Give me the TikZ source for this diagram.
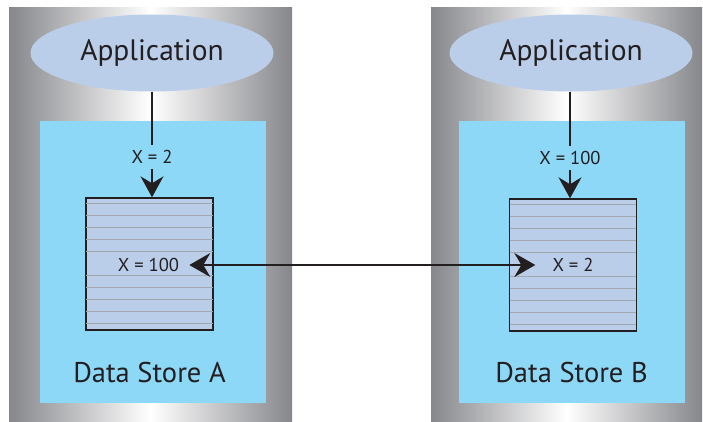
\documentclass[tikz,border=0pt]{standalone}
\usepackage{fontspec}
\setsansfont{PT Sans}
\usepackage{xcolor}
\usetikzlibrary{arrows.meta,positioning,shapes.geometric}
\definecolor{storecyan}{HTML}{8ED8F7}
\definecolor{appblue}{HTML}{BACEEA}
\definecolor{drumgray}{HTML}{86878B}
\definecolor{stripegray}{HTML}{A3A6AD}
\definecolor{inkdark}{HTML}{231F20}

\begin{document}
\begin{tikzpicture}[
  x=1pt,y=-1pt,
  font=\sffamily, text=inkdark,
  drum/.style={left color=drumgray,right color=drumgray,middle color=white},
  app/.style={ellipse,fill=appblue,minimum width=243pt,minimum height=77pt,inner sep=0pt,font=\sffamily\fontsize{29.5}{33}\selectfont},
  store/.style={fill=storecyan,minimum width=226pt,minimum height=282pt,inner sep=0pt},
  table/.style={draw=inkdark,line width=1.4pt,fill=appblue,minimum width=127pt,minimum height=132pt,inner sep=0pt},
  val/.style={font=\sffamily\fontsize{18.6}{21}\selectfont,inner sep=5pt},
  tag/.style={font=\sffamily\fontsize{28.5}{32}\selectfont},
  link/.style={draw=inkdark,line width=1.1pt},
  flow/.style={link,-{Stealth[length=21pt,width=23pt,inset=7pt]}}
]
\useasboundingbox (0,0) rectangle (703,421);

% the two drums
\shade[drum] (9,7) rectangle (292,421);
\shade[drum] (431,7) rectangle (702,421);

\node[store] (sa) at (153,262) {};
\node[store] (sb) at (572,262) {};

\node[app] (appa) at (152,53) {Application};
\node[app] (appb) at (571,53) {Application};

\node[table] (ta) at (149.5,264) {};
\node[table] (tb) at (573,265) {};
\foreach \t in {ta,tb}
  \foreach \k in {1,...,5,7,8,9,10,11}
    \draw[stripegray,line width=1pt,shorten <=0.8pt,shorten >=0.8pt]
      ([yshift=-\k*12pt+6pt]\t.north west) -- ([yshift=-\k*12pt+6pt]\t.north east);

% values
\node[val] (wa) at (152,157) {X = 2};
\node[val] (wb) at (570,158) {X = 100};
\node[val,inner sep=2pt] (va) at (148.5,265) {X = 100};
\node[val,inner sep=2pt] (vb) at (573,265) {X = 2};

\node[tag] (la) at (149.5,373) {Data Store A};
\node[tag] (lb) at (571.5,373) {Data Store B};

% writes
\draw[link] (appa.south -| wa) -- (wa);
\draw[flow] (wa) -- (wa |- ta.north);
\draw[link] (appb.south -| wb) -- (wb);
\draw[flow] (wb) -- (wb |- tb.north);

% replication
\draw[flow,line width=1.8pt,{Stealth[length=21pt,width=24pt,inset=7pt]}-{Stealth[length=21pt,width=24pt,inset=7pt]}]
  ([xshift=8pt]va.east) -- ([xshift=-15pt]vb.west);
\end{tikzpicture}
\end{document}
